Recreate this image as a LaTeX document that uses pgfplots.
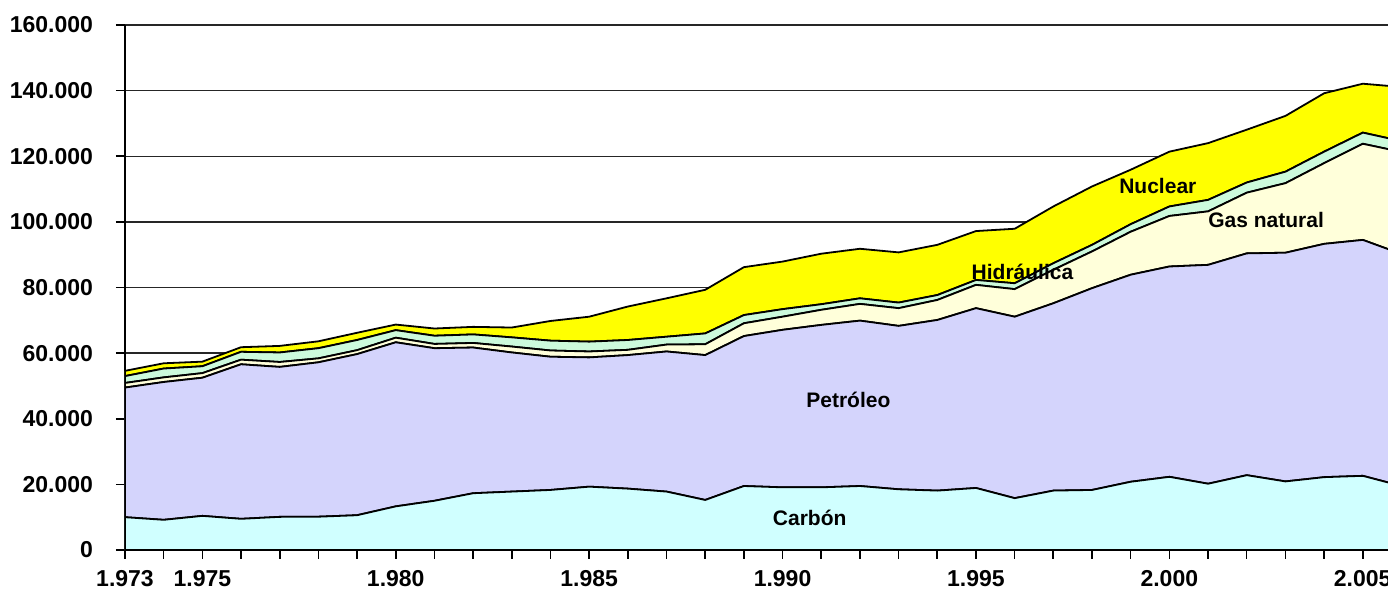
\documentclass[border=0pt]{standalone}
\usepackage{pgfplots}
\pgfplotsset{compat=1.18}
\usepackage{pgfplotstable}
\usepackage{fontspec}
\setmainfont{Liberation Sans}

\definecolor{carbon}{RGB}{208,255,255}
\definecolor{petroleo}{RGB}{212,212,252}
\definecolor{gasnat}{RGB}{255,255,218}
\definecolor{hidro}{RGB}{204,250,220}
\definecolor{nuclear}{RGB}{255,255,0}

% ktep por fuente, apiladas
\pgfplotstableread{
year carbon petroleo gas hidraulica nuclear
1973 10000 39500  1400 2100  1600
1974  9200 42000  1400 2700  1600
1975 10400 42100  1400 2100  1400
1976  9500 47100  1400 2400  1400
1977 10100 45700  1500 2900  2000
1978 10150 47050  1200 3100  2100
1979 10600 49100  1200 3100  2200
1980 13300 50000  1400 2300  1700
1981 15000 46500  1300 2500  2200
1982 17300 44400  1400 2600  2300
1983 17800 42400  1800 2800  3000
1984 18300 40600  1900 3000  6000
1985 19300 39400  1800 3000  7600
1986 18700 40700  1600 3000 10200
1987 17800 42700  2100 2400 11700
1988 15250 44150  3300 3300 13300
1989 19500 45700  3900 2500 14600
1990 19100 48000  4000 2300 14500
1991 19100 49500  4600 1700 15400
1992 19500 50400  5100 1700 15100
1993 18500 49800  5400 1700 15300
1994 18100 52000  6100 1500 15300
1995 18900 54800  7100 1500 14900
1996 15800 55300  8400 1800 16600
1997 18100 57100 10200 2000 17300
1998 18300 61500 11200 2000 17800
1999 20800 63100 13100 2300 16600
2000 22300 64100 15400 2900 16700
2001 20200 66700 16300 3500 17300
2002 22800 67600 18500 3100 16100
2003 20900 69700 21200 3500 17000
2004 22200 71100 24600 3500 17800
2005 22600 71900 29300 3400 14900
2006 19500 70700 31100 3300 16500
}\energia

\tikzset{etiq/.style={font=\bfseries\fontsize{10.5}{12}\selectfont}}

\begin{document}
\begin{tikzpicture}
\path[use as bounding box] (-62.5pt,-22pt) rectangle (631.5pt,275pt);
\begin{axis}[
    at={(0,0)}, anchor=south west,
    scale only axis,
    width=631.5pt, height=262.5pt,
    xmin=1973, xmax=2005.65,
    ymin=0, ymax=160000,
    stack plots=y,
    axis lines*=left,
    axis line style={-, black, line width=0.8pt},
    tick align=outside,
    major tick length=4.5pt,
    tick style={black, line width=0.8pt},
    xtick={1973,...,2005},
    xticklabels={1.973,,1.975,,,,,1.980,,,,,1.985,,,,,1.990,,,,,1.995,,,,,2.000,,,,,2.005},
    ytick={0,20000,...,160000},
    yticklabels={0,20.000,40.000,60.000,80.000,100.000,120.000,140.000,160.000},
    scaled y ticks=false,
    ymajorgrids=true,
    grid style={black!85, line width=0.7pt},
    tick label style={font=\bfseries\fontsize{11.5}{13}\selectfont},
    xticklabel style={yshift=-2pt},
    yticklabel style={xshift=-8pt},
    after end axis/.append code={
        \node[etiq] at (axis cs:1990.7,9800) {Carbón};
        \node[etiq] at (axis cs:1991.7,45700) {Petróleo};
        \node[etiq] at (axis cs:1996.2,84800) {Hidráulica};
        \node[etiq] at (axis cs:2002.5,100600) {Gas natural};
        \node[etiq] at (axis cs:1999.7,111000) {Nuclear};
    },
]
\addplot[draw=black, line width=0.9pt, fill=carbon] table[x=year, y=carbon] {\energia} \closedcycle;
\addplot[draw=black, line width=0.9pt, fill=petroleo] table[x=year, y=petroleo] {\energia} \closedcycle;
\addplot[draw=black, line width=0.9pt, fill=gasnat] table[x=year, y=gas] {\energia} \closedcycle;
\addplot[draw=black, line width=0.9pt, fill=hidro] table[x=year, y=hidraulica] {\energia} \closedcycle;
\addplot[draw=black, line width=0.9pt, fill=nuclear] table[x=year, y=nuclear] {\energia} \closedcycle;
\end{axis}
\end{tikzpicture}
\end{document}
